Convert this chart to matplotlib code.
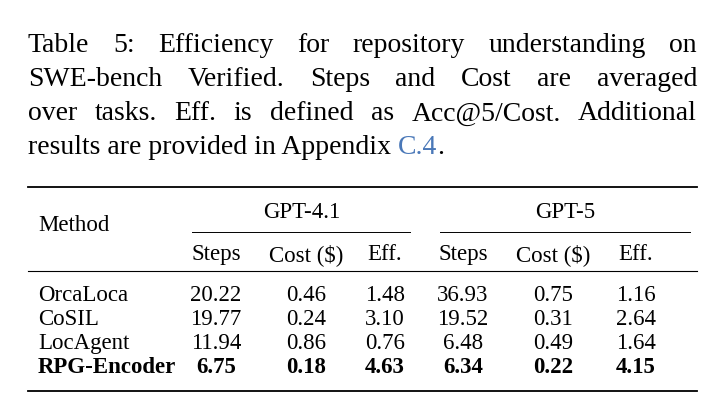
import matplotlib
matplotlib.use("Agg")
import matplotlib.pyplot as plt
from matplotlib.lines import Line2D

W, H = 728, 414
caption = ["Table 5: Efficiency for repository understanding on",
           "SWE-bench Verified.  Steps and Cost are averaged",
           "over tasks. Eff. is defined as Acc@5/Cost. Additional",
           "results are provided in Appendix"]
methods = ["OrcaLoca", "CoSIL", "LocAgent", "RPG-Encoder"]
groups = ["GPT-4.1", "GPT-5"]
subheads = ["Steps", "Cost ($)", "Eff.", "Steps", "Cost ($)", "Eff."]
values = [["20.22", "0.46", "1.48", "36.93", "0.75", "1.16"],
          ["19.77", "0.24", "3.10", "19.52", "0.31", "2.64"],
          ["11.94", "0.86", "0.76", "6.48", "0.49", "1.64"],
          ["6.75", "0.18", "4.63", "6.34", "0.22", "4.15"]]

FONT = "Liberation Serif"
fig = plt.figure(figsize=(W/100, H/100), dpi=100)
fig.patch.set_facecolor("white")

def T(x, y, s, **kw):
    kw.setdefault("family", FONT)
    return fig.text(x/W, 1-y/H, s, va="center", **kw)

def rule(x0, x1, y, lw=1.0):
    fig.add_artist(Line2D([x0/W, x1/W], [1-y/H, 1-y/H], color="black", lw=lw))

fig.canvas.draw()
r = fig.canvas.get_renderer()
L, R = 28, 697
ys = [45, 80, 114, 148]
cs = 20
for i, line in enumerate(caption):
    words = line.split()
    if i < 3:
        ts = [T(0, ys[i], w, fontsize=cs) for w in words]
        widths = [t.get_window_extent(r).width for t in ts]
        gap = (R - L - sum(widths)) / (len(words) - 1)
        x = L
        for t, w in zip(ts, widths):
            t.set_x(x/W); x += w + gap
    else:
        t = T(L, ys[i], line + " ", fontsize=cs)
        x = L + t.get_window_extent(r).width
        t2 = T(x, ys[i], "C.4", fontsize=cs, color="#4a78b8")
        x += t2.get_window_extent(r).width
        T(x, ys[i], ".", fontsize=cs)

fs = 16.5
rule(L, R, 188, 1.3)
T(38, 226, "Method", fontsize=fs)
T(302, 212, groups[0], fontsize=fs, ha="center")
T(565, 212, groups[1], fontsize=fs, ha="center")
rule(192, 410, 233, 0.7)
rule(440, 690, 233, 0.7)
cols = [216, 306, 385, 463, 553, 636]
for x, s in zip(cols, subheads):
    T(x, 255, s, fontsize=fs, ha="center")
rule(L, R, 272, 0.8)
for j, (m, row) in enumerate(zip(methods, values)):
    y = 296 + 24*j
    wt = "bold" if j == 3 else "normal"
    T(38, y, m, fontsize=fs, weight=wt)
    for x, v in zip(cols, row):
        T(x, y, v, fontsize=fs, ha="center", weight=wt)
rule(L, R, 392, 1.3)

fig.savefig("out.png", dpi=100, facecolor="white")
